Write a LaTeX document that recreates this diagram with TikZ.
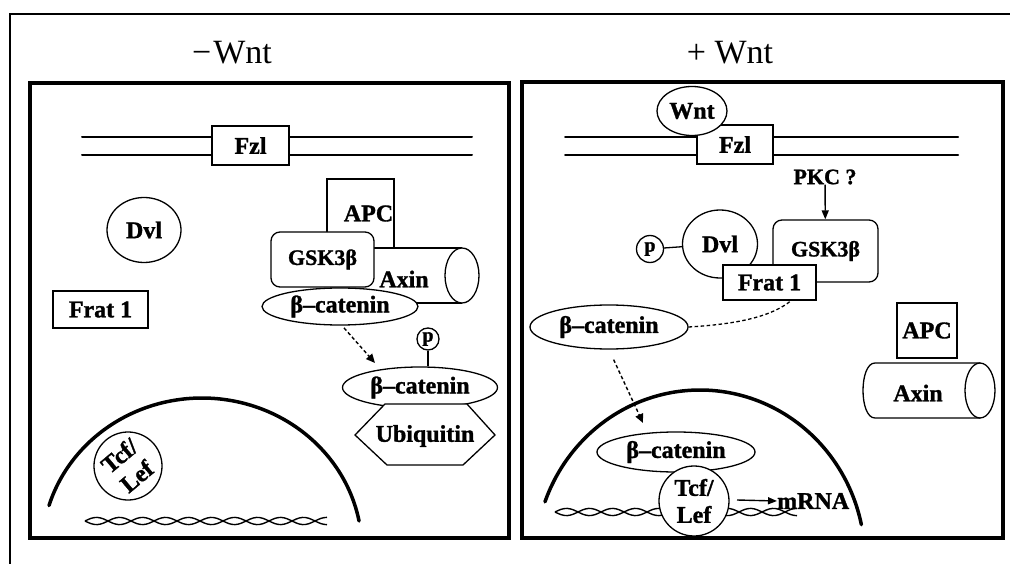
\documentclass[tikz,border=0pt]{standalone}
\usepackage{fontspec}
\setmainfont{Liberation Serif}[BoldFeatures={FakeBold=1.3}]
\usetikzlibrary{arrows.meta,shapes.geometric}

% double-stranded DNA: two out-of-phase sine strands
% #1 = start x, #2 = end x, #3 = axis y, #4 = samples
\newcommand{\dnahelix}[4]{%
  \draw[dnaline] plot[domain=#1:#2, samples=#4, smooth] (\x, {#3+3.6*sin(7.826*(\x-#1))});
  \draw[dnaline] plot[domain=#1:#2, samples=#4, smooth] (\x, {#3-3.6*sin(7.826*(\x-#1))});
}

\begin{document}
\begin{tikzpicture}[x=1pt, y=-1pt,
  lab/.style={font=\bfseries\fontsize{24}{25}\selectfont, inner sep=0pt},
  twolines/.style={font=\bfseries\fontsize{24}{27}\selectfont},
  gskfont/.style={font=\bfseries\fontsize{22}{24}\selectfont},
  shp/.style={draw, line width=1.3pt, fill=white, inner sep=0pt},
  boxn/.style={shp, lab, rectangle},
  rboxn/.style={shp, lab, rectangle, rounded corners=9pt},
  elln/.style={shp, lab, ellipse},
  pcirc/.style={shp, circle, font=\bfseries\fontsize{20}{22}\selectfont},
  panel/.style={line width=3.5pt},
  frameline/.style={line width=1.6pt},
  membrane/.style={line width=2pt, line cap=round},
  nucleus/.style={line width=3.5pt, line cap=round},
  dnaline/.style={line width=1.4pt},
  link/.style={line width=1.3pt},
  dashedarrow/.style={line width=1.4pt, dash pattern=on 3.5pt off 2.5pt, -{Triangle[length=9pt,width=8pt]}},
  solidarrow/.style={line width=1.4pt, -{Triangle[length=9pt,width=7pt]}},
  title/.style={font=\fontsize{34}{38}\selectfont, inner sep=0pt, anchor=base},
]
\useasboundingbox (0,0) rectangle (1010,564);

% outer frame (open to the right and bottom)
\draw[frameline] (10,564) -- (10,14) -- (1010,14);

% headings
\node[title] (tminus) at (232,64) {−\kern2pt Wnt};
\node[title] (tplus) at (730,64) {+ Wnt};

% the two cells
\draw[panel] (30,83) rectangle (509,538);
\draw[panel] (522,82) rectangle (1003,538);

% ================= -Wnt =================
% plasma membrane with frizzled
\draw[membrane] (82,137) -- (472,137);
\draw[membrane] (82,155) -- (472,155);
\node[boxn, minimum width=77, minimum height=39] (fzlA) at (250.5,145.5) {Fzl};

\node[elln, minimum width=74, minimum height=65] (dvlA) at (144,230) {Dvl};
\node[boxn, minimum width=95, minimum height=37] (fratA) at (100.5,309.5) {Frat 1};

% destruction complex: Axin cylinder, APC, GSK3b, b-catenin
\fill[white] (345,248) rectangle (462,303);
\draw[link] (345,248) -- (462,248);
\draw[link] (345,303) -- (462,303);
\draw[link, fill=white] (462,275.5) ellipse [x radius=17, y radius=27.5];
\node[lab] (axinA) at (404,279) {Axin};
\node[boxn, minimum width=67, minimum height=69] (apcA) at (360.5,213.5) {\hspace*{16pt}\raisebox{-5pt}{APC}};
\node[rboxn, gskfont, minimum width=103, minimum height=55] (gskA) at (322.5,259.5) {GSK3β};
\node[elln, minimum width=156, minimum height=37] (bcatA) at (340,306.5) {β–catenin};

% phosphorylated b-catenin tagged by ubiquitin
\coordinate (arrA) at (375,363);
\draw[dashedarrow, shorten <=3pt] (bcatA.-84) -- (arrA);
\node[elln, minimum width=155, minimum height=41] (bcatB) at (420,387.5) {β–catenin};
\node[pcirc, minimum size=22] (pA) at (428,339) {p};
\draw[link] (pA.south) -- (bcatB.north -| pA.south);
\draw[shp] (385,404) -- (467,404) -- (495,435) -- (463,465) -- (387,465) -- (355,435) -- cycle;
\node[lab] (ubq) at (425,436) {Ubiquitin};

% nucleus
\draw[nucleus] plot[domain=163:11, samples=70, smooth] ({202+160*cos(\x)}, {550-152*sin(\x)});
\dnahelix{85}{327}{521}{80}
\node[shp, twolines, circle, minimum size=68, align=center, rotate=40] (tcfA) at (128,466) {Tcf/\\Lef};

% ================= +Wnt =================
\draw[membrane] (565,137) -- (958,137);
\draw[membrane] (565,155) -- (958,155);
\node[boxn, minimum width=76, minimum height=39] (fzlB) at (735,144.5) {Fzl};
\node[elln, minimum width=70, minimum height=49] (wnt) at (692,111) {Wnt};

\node[lab, font=\bfseries\fontsize{22}{24}\selectfont] (pkc) at (825,177) {PKC ?};
\node[rboxn, gskfont, minimum width=105, minimum height=62] (gskB) at (825.5,251) {\raisebox{-4pt}{GSK3β}};
\draw[solidarrow] (pkc) -- (gskB);

\node[elln, minimum width=75, minimum height=68] (dvlB) at (720,244) {Dvl};
\node[pcirc, minimum size=27] (pB) at (650,249) {p};
\draw[link] (pB) -- (dvlB);
\node[boxn, minimum width=93, minimum height=35] (fratB) at (769.5,282.5) {Frat 1};

\node[elln, minimum width=158, minimum height=44] (bcatC) at (609,327) {β–catenin};
\draw[link, dash pattern=on 3.5pt off 2.5pt] (bcatC.east) .. controls (740,324) and (772,316) .. (fratB.-40);

% free APC and Axin
\node[boxn, minimum width=60, minimum height=55] (apcB) at (927,330.5) {APC};
\fill[white] (875,363) -- (980,363) -- (980,418) -- (875,418) .. controls (859,418) and (859,363) .. (875,363);
\draw[link] (980,363) -- (875,363) .. controls (859,363) and (859,418) .. (875,418) -- (980,418);
\draw[link, fill=white] (980,390.5) ellipse [x radius=15, y radius=27.5];
\node[lab] (axinB) at (918,393) {Axin};

% nucleus with nuclear b-catenin and Tcf/Lef on DNA
\draw[nucleus] plot[domain=160:12, samples=70, smooth] ({700+165*cos(\x)}, {560-170*sin(\x)});
\coordinate (arrB) at (643,423);
\draw[dashedarrow, shorten <=11pt] (bcatC.south) -- (arrB);
\node[elln, minimum width=158, minimum height=40] (bcatD) at (676,452) {β–catenin};
\dnahelix{555}{797}{512}{80}
\node[shp, twolines, circle, minimum size=70, align=center] (tcfB) at (694,501) {Tcf/\\Lef};
\node[lab, anchor=west] (mrna) at (777,501) {mRNA};
\coordinate (txstart) at (737,500);
\draw[solidarrow] (txstart) -- (mrna.west);
\end{tikzpicture}
\end{document}
